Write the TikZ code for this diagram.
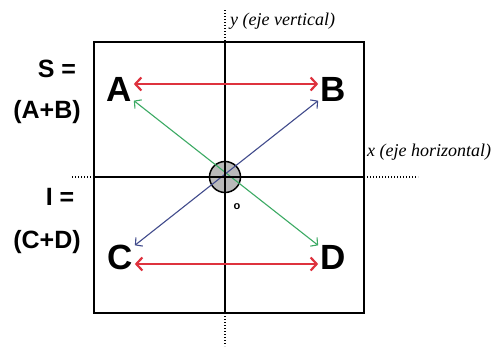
\documentclass[tikz,border=0pt]{standalone}
\usepackage{fontspec}
\setmainfont{Liberation Sans}
\newfontfamily\serifit{Liberation Serif}
\usetikzlibrary{arrows.meta}
\definecolor{myred}{RGB}{222,50,62}
\definecolor{mygreen}{RGB}{60,170,100}
\definecolor{myblue}{RGB}{65,75,140}
\tikzset{
  letter/.style={font=\bfseries\fontsize{35}{35}\selectfont, inner sep=2pt},
  side/.style={font=\bfseries\fontsize{25}{25}\selectfont, inner sep=0pt},
  axislabel/.style={font=\serifit\itshape\fontsize{18}{18}\selectfont, inner sep=0pt, anchor=west},
  redarrow/.style={myred, line width=2.2pt, {Straight Barb[length=6pt,width=13pt]}-{Straight Barb[length=6pt,width=13pt]}},
  diag/.style={line width=1.1pt, {Straight Barb[length=5pt,width=11pt]}-{Straight Barb[length=5pt,width=11pt]}},
  axis/.style={line width=1.3pt},
  dots/.style={line width=1.3pt, dash pattern=on 1.2pt off 1.8pt},
}
\begin{document}
\begin{tikzpicture}[x=1pt,y=-1pt]
\useasboundingbox[fill=white] (0,0) rectangle (498,348);
% frame
\draw[line width=2.2pt] (94,42) rectangle (364,313);
% axes
\coordinate (ytop) at (225,10);
\coordinate (yt) at (225,42);
\coordinate (yb) at (225,313);
\coordinate (ybot) at (225,346);
\coordinate (xl0) at (72,177);
\coordinate (xl) at (94,177);
\coordinate (xr) at (364,177);
\coordinate (xr0) at (418,177);
\draw[dots] (ytop) -- (yt);
\draw[axis] (yt) -- (yb);
\draw[dots] (yb) -- (ybot);
\draw[dots] (xl0) -- (xl);
\draw[axis] (xl) -- (xr);
\draw[dots] (xr) -- (xr0);
% letters
\node[letter] (A) at (119,89) {A};
\node[letter] (B) at (333,89) {B};
\node[letter] (C) at (120,257) {C};
\node[letter] (D) at (333,257) {D};
% origin circle
\node[circle, draw, line width=1.5pt, fill=gray!55, minimum size=31pt, inner sep=0pt] (O) at (225,177) {};
% diagonals
\draw[diag, mygreen] (A) -- (D);
\draw[diag, myblue] (C) -- (B);
\draw[axis] (O.west) -- (O.east);
\draw[axis] (O.north) -- (O.south);
% red arrows
\draw[redarrow] ([yshift=5pt]A.east) -- ([yshift=5pt]B.west);
\draw[redarrow] ([yshift=-7pt]C.east) -- ([yshift=-7pt]D.west);
% labels
\node[font=\bfseries\fontsize{11}{11}\selectfont] (o) at (237,207) {o};
\node[axislabel] (ylab) at (230,21) {y (eje vertical)};
\node[axislabel] (xlab) at (367,152) {x (eje horizontal)};
\node[side] (S) at (57,69) {S =};
\node[side] (AB) at (47,112) {(A+B)};
\node[side] (I) at (60,197) {I =};
\node[side] (CD) at (47,242) {(C+D)};
\end{tikzpicture}
\end{document}
